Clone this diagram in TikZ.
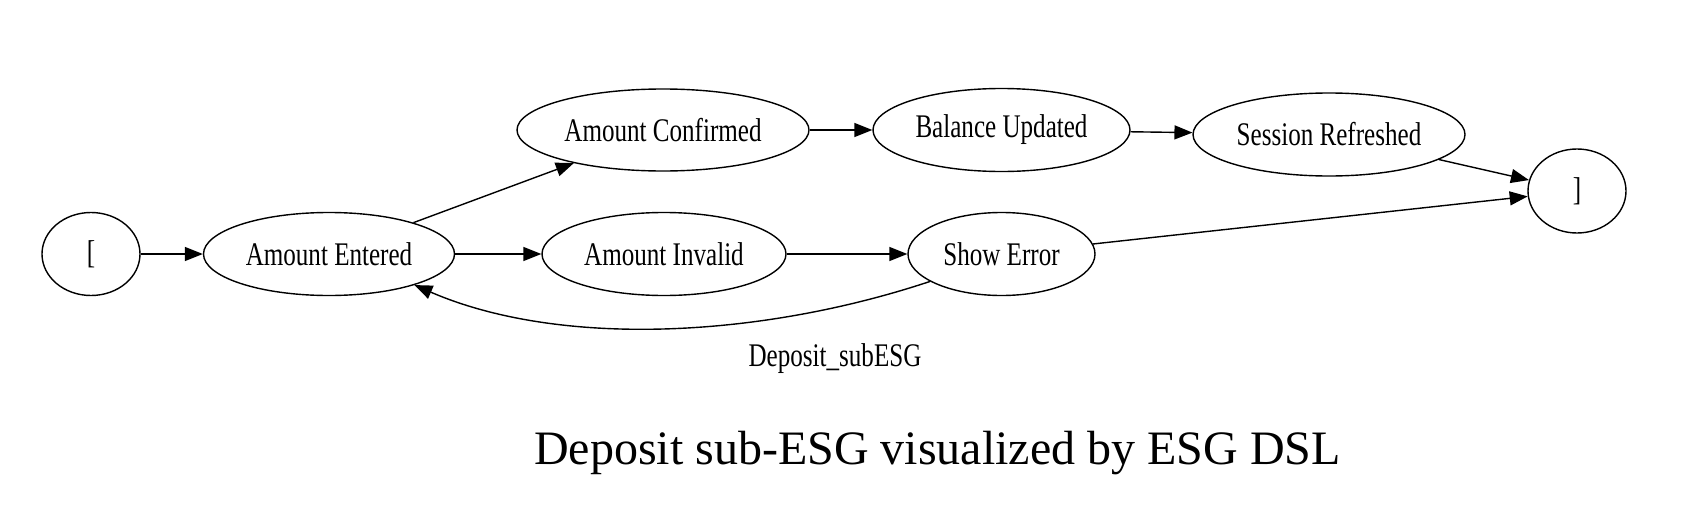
\documentclass[tikz,border=0pt]{standalone}
\usepackage{graphicx}
\usepackage{fontspec}
\setmainfont{Liberation Serif}
\usetikzlibrary{shapes.geometric,arrows.meta}
\newcommand{\gtxt}[1]{\scalebox{0.76}[1]{\fontsize{33}{36}\selectfont #1}}
\begin{document}
\begin{tikzpicture}[x=1pt,y=-1pt,
  st/.style={ellipse,draw,line width=1.4pt,inner sep=0pt,minimum height=83pt},
  edge/.style={line width=1.4pt,-{Triangle[length=18pt,width=14pt]}}]
\useasboundingbox[fill=white] (0,0) rectangle (1682,522);
\node[st,minimum width=98pt] (s) at (91,254) {\gtxt{[}};
\node[st,minimum width=251pt] (ae) at (329,254) {\gtxt{Amount Entered}};
\node[st,minimum width=292pt,minimum height=82pt] (ac) at (663,130) {\gtxt{Amount Confirmed}};
\node[st,minimum width=257pt] (bu) at (1001.5,130) {\gtxt{Balance Updated}};
\node[st,minimum width=272pt] (sr) at (1329,134.5) {\gtxt{Session Refreshed}};
\node[st,minimum width=244pt] (ai) at (664,254) {\gtxt{Amount Invalid}};
\node[st,minimum width=187pt] (se) at (1001.5,254) {\gtxt{Show Error}};
\node[st,minimum width=98pt,minimum height=84pt] (e) at (1577,191) {\gtxt{]}};
\node (lbl) at (835,359) {\gtxt{Deposit\_subESG}};
\node[anchor=base,inner sep=0pt] (cap) at (937.5,464) {\fontsize{48}{52}\selectfont Deposit sub-ESG visualized by ESG DSL};
\draw[edge] (s) -- (ae);
\draw[edge] (ae) -- (ac);
\draw[edge] (ae) -- (ai);
\draw[edge] (ac) -- (bu);
\draw[edge] (bu) -- (sr);
\draw[edge] (ai) -- (se);
\draw[edge] (sr) -- (e);
\draw[edge] (se) -- (e);
\draw[edge] (se.201) .. controls (760,338) and (560,348) .. (ae.340);
\end{tikzpicture}
\end{document}
